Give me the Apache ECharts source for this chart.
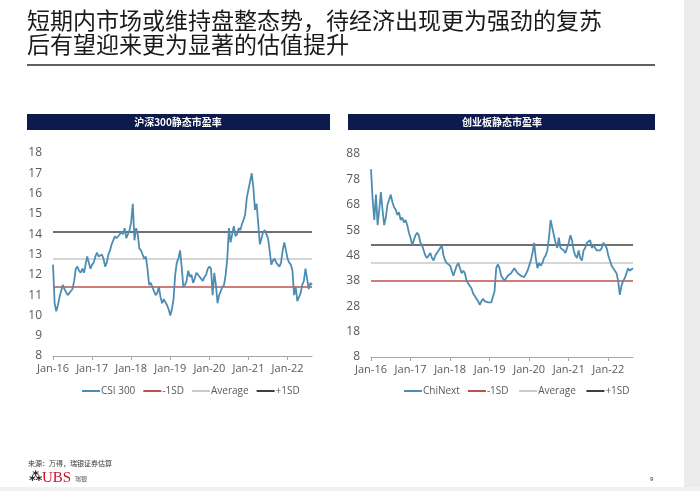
<!DOCTYPE html>
<html>
<head>
<meta charset="utf-8">
<script src="https://cdn.jsdelivr.net/npm/echarts@6/dist/echarts.min.js"></script>
<style>
html,body{margin:0;padding:0;background:#fff;}
#c{width:700px;height:491px;}
</style>
</head>
<body>
<div id="c"></div>
<script>
// ---- Data ----
const startYear = 2016;
const endYear = 2022;
const endMonth = 8; // last month (Aug 2022)
const yearTickLabels = ['Jan-16','Jan-17','Jan-18','Jan-19','Jan-20','Jan-21','Jan-22'];

// CSI 300 static P/E, half-monthly readings (1st and 16th of each month)
const csiPE = [
  // 2016
  12.5, 10.6, 10.2, 10.5, 10.9, 11.2, 11.5, 11.3, 11.3, 11.0, 11.1, 11.2,
  11.3, 11.7, 12.3, 12.4, 12.2, 12.1, 12.3, 12.1, 12.5, 12.9, 12.6, 12.3,
  // 2017
  12.5, 12.6, 12.9, 13.1, 12.9, 12.9, 13.0, 12.8, 12.4, 12.6, 13.0, 13.2,
  13.5, 13.7, 13.9, 13.8, 13.9, 14.0, 14.1, 14.0, 14.3, 13.8, 13.8, 14.2,
  // 2018
  14.6, 15.5, 13.7, 14.3, 14.0, 13.3, 13.2, 13.0, 12.8, 12.9, 12.3, 11.5,
  11.6, 11.6, 11.2, 11.0, 11.1, 11.4, 10.9, 10.6, 10.8, 10.8, 10.5, 10.3,
  // 2019
  10.0, 10.3, 10.8, 12.0, 12.6, 12.8, 13.2, 12.4, 11.4, 11.5, 11.7, 12.2,
  11.9, 12.0, 11.6, 11.8, 12.1, 12.0, 12.0, 11.8, 11.7, 11.9, 12.0, 12.3,
  // 2020
  12.4, 12.3, 11.0, 12.1, 11.5, 10.6, 11.0, 11.2, 11.4, 11.5, 12.0, 12.8,
  14.3, 13.6, 14.0, 14.4, 13.9, 14.0, 14.3, 14.2, 14.5, 14.7, 15.0, 15.8,
  // 2021
  16.2, 16.6, 17.0, 16.3, 15.2, 15.5, 14.5, 13.5, 13.8, 14.1, 14.2, 14.0,
  13.8, 13.2, 12.5, 12.7, 12.8, 12.6, 12.5, 12.4, 12.6, 13.2, 13.6, 13.2,
  // 2022 (Jan-Aug)
  12.8, 12.6, 12.5, 12.2, 11.0, 11.4, 10.7, 10.9, 11.1, 11.5, 11.7, 12.3,
  11.8, 11.3, 11.6, 11.5
];

// ChiNext static P/E, half-monthly readings
const chinextPE = [
  // 2016
  82, 70, 62, 72, 60, 66, 73, 66, 60, 63, 68, 70,
  72, 69, 67, 66, 64, 65, 62, 63, 61, 62, 60, 57,
  // 2017
  55, 52, 54, 56, 57, 56, 53, 52, 50, 48, 47, 48,
  49, 47, 46, 48, 49, 50, 51, 52, 48, 46, 45, 45,
  // 2018
  44, 44, 40, 42, 44, 45, 43, 41, 42, 41, 38, 37,
  36, 35, 33, 33, 31, 30, 28.5, 30, 31, 30, 30, 29.5,
  // 2019
  29, 29.5, 30, 34, 43, 44.5, 43, 40, 39, 38, 38.5, 40,
  40, 41, 41, 43, 42, 41, 41, 40, 40, 39.5, 40, 42,
  // 2020
  44, 46, 49, 53, 47, 43, 45, 44, 45, 47, 48, 50,
  55, 62, 59, 56, 53, 51, 55, 51, 51, 50, 49, 49,
  // 2021
  53, 56, 54, 50, 48, 47, 50, 47, 46, 50, 51, 53,
  53, 54, 51, 52, 52, 50, 50, 50, 51, 53, 52, 51,
  // 2022 (Jan-Aug)
  48, 46, 44, 44, 42, 41, 38, 32.5, 36, 38, 39, 41,
  43, 42, 42.5, 43
];

// Band levels: [-1SD, Average, +1SD]
const csiBands = [11.4, 12.8, 14.1];
const chinextBands = [38.2, 45.2, 52.4];

const csiYAxis = {min: 8, max: 18, interval: 1};
const chinextYAxis = {min: 8, max: 88, interval: 10};

const legendCsi = ['CSI 300', '-1SD', 'Average', '+1SD'];
const legendChinext = ['ChiNext', '-1SD ', 'Average ', '+1SD '];

const chartTitleLeft = '沪深300静态市盈率';
const chartTitleRight = '创业板静态市盈率';
const pageTitle1 = '短期内市场或维持盘整态势，待经济出现更为强劲的复苏';
const pageTitle2 = '后有望迎来更为显著的估值提升';
const sourceText = '来源：万得，瑞银证券估算';

// ---- Build dates (category axis, 1st & 16th of each month) ----
const dates = [];
for (let y = startYear; y <= endYear; y++) {
  const lastM = (y === endYear) ? endMonth : 12;
  for (let m = 1; m <= lastM; m++) {
    const mm = (m < 10 ? '0' : '') + m;
    dates.push(y + '-' + mm + '-01');
    dates.push(y + '-' + mm + '-16');
  }
}

const lineColor = '#4e8db3';
const redColor = '#c0504d';
const avgColor = '#c9c9c9';
const sdColor = '#3f3f3f';
const labelColor = '#595959';
const font = '"Open Sans", "Noto Sans", sans-serif';

function isYearStart(v) { return /-01-01$/.test(v); }
function yearLabel(v) {
  if (!isYearStart(v)) return '';
  const idx = parseInt(v.slice(0, 4), 10) - startYear;
  return yearTickLabels[idx] || '';
}

function xAxisFor(gridIndex) {
  return {
    type: 'category', gridIndex: gridIndex, data: dates, boundaryGap: false,
    axisLine: {show: true, lineStyle: {color: '#a6a6a6', width: 1}},
    axisTick: {show: true, length: 4, interval: function (i, v) { return isYearStart(v); },
      lineStyle: {color: '#a6a6a6'}},
    axisLabel: {interval: function (i, v) { return isYearStart(v); },
      formatter: yearLabel, color: labelColor, fontSize: 11, fontFamily: font, margin: 7},
    splitLine: {show: false}
  };
}
function yAxisFor(gridIndex, cfg) {
  return {
    type: 'value', gridIndex: gridIndex, min: cfg.min, max: cfg.max, interval: cfg.interval,
    axisLine: {show: false}, axisTick: {show: false}, splitLine: {show: false},
    axisLabel: {color: labelColor, fontSize: 12, fontFamily: font, margin: 11}
  };
}
function bandSeries(name, value, color, idx) {
  return {
    name: name, type: 'line', xAxisIndex: idx, yAxisIndex: idx, data: [],
    color: color, lineStyle: {color: color, width: 1.5}, symbol: 'none', silent: true,
    markLine: {silent: true, symbol: 'none', label: {show: false},
      lineStyle: {color: color, width: 1.5, type: 'solid'},
      data: [{yAxis: value}]}
  };
}

const chart = echarts.init(document.getElementById('c'), null, {renderer: 'canvas'});

const option = {
  animation: false,
  backgroundColor: '#ffffff',
  grid: [
    {left: 53, top: 153, width: 259, height: 203},
    {left: 371, top: 154, width: 262, height: 203}
  ],
  xAxis: [xAxisFor(0), xAxisFor(1)],
  yAxis: [yAxisFor(0, csiYAxis), yAxisFor(1, chinextYAxis)],
  legend: [
    {data: legendCsi.map(n => ({name: n, icon: 'rect'})), left: 77, top: 381, itemWidth: 18, itemHeight: 2,
      itemGap: 8, textStyle: {color: labelColor, fontSize: 10, fontFamily: font, padding: [0, 0, 0, -4]}, selectedMode: false},
    {data: legendChinext.map(n => ({name: n, icon: 'rect'})), left: 399, top: 381, itemWidth: 18, itemHeight: 2,
      itemGap: 8, textStyle: {color: labelColor, fontSize: 10, fontFamily: font, padding: [0, 0, 0, -4]}, selectedMode: false}
  ],
  series: [
    bandSeries('-1SD', csiBands[0], redColor, 0),
    bandSeries('Average', csiBands[1], avgColor, 0),
    bandSeries('+1SD', csiBands[2], sdColor, 0),
    {name: 'CSI 300', type: 'line', xAxisIndex: 0, yAxisIndex: 0, data: csiPE, color: lineColor,
      symbol: 'none', lineStyle: {color: lineColor, width: 1.8}, z: 5},
    bandSeries('-1SD ', chinextBands[0], redColor, 1),
    bandSeries('Average ', chinextBands[1], avgColor, 1),
    bandSeries('+1SD ', chinextBands[2], sdColor, 1),
    {name: 'ChiNext', type: 'line', xAxisIndex: 1, yAxisIndex: 1, data: chinextPE, color: lineColor,
      symbol: 'none', lineStyle: {color: lineColor, width: 1.8}, z: 5}
  ],
  graphic: [
    // page title
    {type: 'text', left: 27, top: 9, style: {text: pageTitle1, fill: '#1a1a1a',
      font: '23px "Noto Sans CJK SC", sans-serif'}},
    {type: 'text', left: 27, top: 33, style: {text: pageTitle2, fill: '#1a1a1a',
      font: '23px "Noto Sans CJK SC", sans-serif'}},
    {type: 'rect', shape: {x: 27, y: 64, width: 628, height: 2}, style: {fill: '#606060'}},
    // chart headers
    {type: 'rect', shape: {x: 27, y: 114, width: 303, height: 16}, style: {fill: '#0c1a4d'}},
    {type: 'text', x: 178, y: 122, style: {text: chartTitleLeft, fill: '#ffffff', align: 'center',
      verticalAlign: 'middle', font: 'bold 10px "Noto Sans CJK SC", sans-serif'}},
    {type: 'rect', shape: {x: 348, y: 114, width: 307, height: 16}, style: {fill: '#0c1a4d'}},
    {type: 'text', x: 502, y: 122, style: {text: chartTitleRight, fill: '#ffffff', align: 'center',
      verticalAlign: 'middle', font: 'bold 10px "Noto Sans CJK SC", sans-serif'}},
    // source
    {type: 'text', x: 28, y: 463, style: {text: sourceText, fill: '#333333', verticalAlign: 'middle',
      font: '7px "Noto Sans CJK SC", sans-serif'}},
    // UBS logo
    {type: 'text', x: 29, y: 478, style: {text: '⁂', fill: '#222222', verticalAlign: 'middle',
      font: 'bold 13px "DejaVu Sans", sans-serif'}},
    {type: 'text', x: 42, y: 478, style: {text: 'UBS', fill: '#c8102e', verticalAlign: 'middle',
      font: '15px "Liberation Serif", serif'}},
    {type: 'text', x: 75, y: 479, style: {text: '瑞银', fill: '#555555', verticalAlign: 'middle',
      font: '6px "Noto Sans CJK SC", sans-serif'}},
    {type: 'text', x: 650, y: 479, style: {text: '9', fill: '#333333', verticalAlign: 'middle',
      font: '6px "Noto Sans", sans-serif'}},
    // page edge strips
    {type: 'rect', shape: {x: 684, y: 0, width: 16, height: 491}, style: {fill: '#ececec'}},
    {type: 'rect', shape: {x: 0, y: 487, width: 700, height: 4}, style: {fill: '#f1f1f1'}}
  ]
};
chart.setOption(option);
</script>
</body>
</html>
